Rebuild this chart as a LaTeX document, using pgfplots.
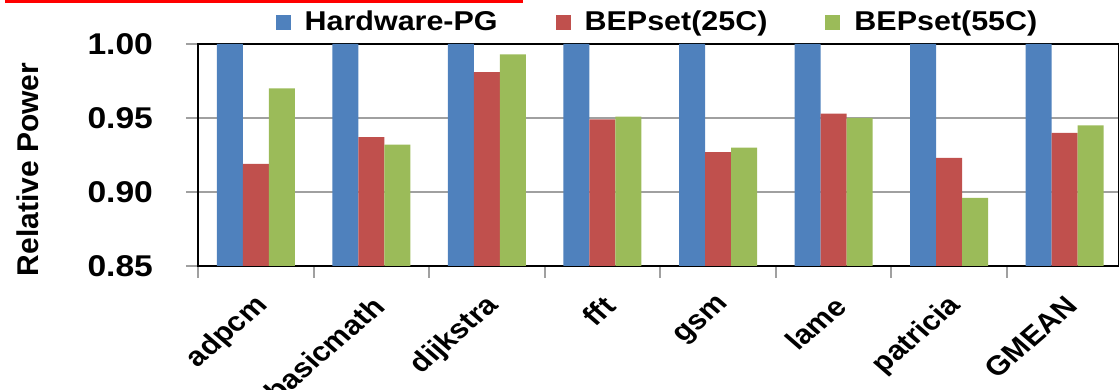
\documentclass[border=0pt]{standalone}
\usepackage{pgfplots}
\pgfplotsset{compat=1.18}
\usepackage{fontspec}
\setmainfont{Liberation Sans}
\newfontfamily\widefont[FakeStretch=1.12]{Liberation Sans}
\definecolor{c1}{HTML}{4F81BD}
\definecolor{c2}{HTML}{C0504D}
\definecolor{c3}{HTML}{9BBB59}
\definecolor{gridgray}{HTML}{A0A0A0}
\begin{document}
\begin{tikzpicture}
\begin{axis}[
  at={(0,0)}, anchor=south west,
  scale only axis, width=460.5pt, height=111pt,
  xmin=-0.5, xmax=7.47, ymin=0.85, ymax=1.0,
  ybar=0pt, bar width=13pt,
  axis line style={black, line width=1.2pt},
  tick align=outside, tick pos=left,
  major tick length=6pt,
  tick style={gridgray, line width=1pt},
  ymajorgrids, grid style={gridgray, line width=1pt},
  ytick={0.85,0.90,0.95,1.00},
  yticklabels={0.85,0.90,0.95,1.00},
  yticklabel style={xshift=-13pt, font=\widefont\bfseries\fontsize{15}{16}\selectfont},
  xtick={-0.5,0.5,1.5,2.5,3.5,4.5,5.5,6.5},
  xticklabels={},
  extra x ticks={0,1,2,3,4,5,6,7},
  extra x tick labels={adpcm,basicmath,dijkstra,fft,gsm,lame,patricia,GMEAN},
  extra x tick style={major tick length=0pt, grid=none,
    xticklabel style={xshift=6.5pt, yshift=-15.3pt, xscale=1.15, rotate=45, anchor=east,
      font=\bfseries\fontsize{13.5}{15}\selectfont}},
  ylabel={Relative Power},
  ylabel style={at={(axis description cs:-0.185,0.435)}, anchor=center,
    font=\bfseries\fontsize{15}{16}\selectfont},
  legend columns=3,
  legend cell align=left,
  legend image code/.code={\fill[#1] (0pt,-3.75pt) rectangle (7.5pt,3.75pt);},
  legend style={at={(axis description cs:0.5,1.099)}, anchor=center, draw=none,
    fill=none, inner sep=0pt,
    font=\widefont\bfseries\fontsize{13.6}{15}\selectfont,
    /tikz/every odd column/.append style={column sep=5pt},
    /tikz/every even column/.append style={column sep=27pt}},
]
\addplot[fill=c1, draw=none] coordinates {(0,1.0)(1,1.0)(2,1.0)(3,1.0)(4,1.0)(5,1.0)(6,1.0)(7,1.0)};
\addplot[fill=c2, draw=none] coordinates {(0,0.919)(1,0.937)(2,0.981)(3,0.949)(4,0.927)(5,0.953)(6,0.923)(7,0.940)};
\addplot[fill=c3, draw=none] coordinates {(0,0.970)(1,0.932)(2,0.993)(3,0.951)(4,0.930)(5,0.950)(6,0.896)(7,0.945)};
\legend{Hardware-PG,BEPset(25C),BEPset(55C)}
\end{axis}
\draw[red, line width=1.5pt] (-96.5pt,132pt) -- (162.5pt,132pt);
\pgfresetboundingbox
\useasboundingbox (-99pt,-62pt) rectangle (460.5pt,133pt);
\end{tikzpicture}
\end{document}
